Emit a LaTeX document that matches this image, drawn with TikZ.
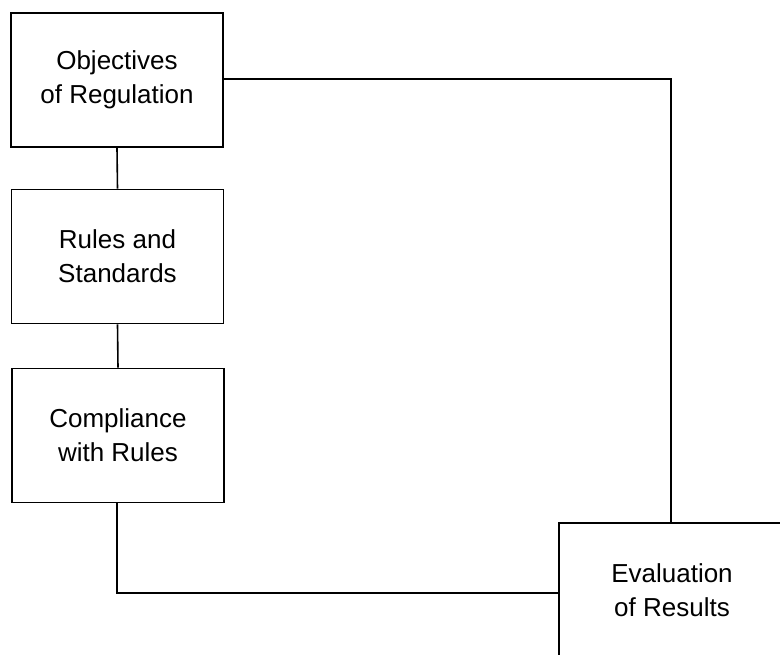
\documentclass[tikz,border=0pt]{standalone}
\usepackage{fontspec}
\setmainfont{Liberation Sans}
\begin{document}
\begin{tikzpicture}[x=1pt,y=-1pt,
  box/.style={draw=black,line width=1.6pt,rectangle,minimum width=212pt,minimum height=134pt,
    align=center,font=\fontsize{26}{34}\selectfont,inner sep=0pt},
  link/.style={draw=black,line width=1.6pt}]
\useasboundingbox (0,0) rectangle (780,655);
\node[box] (obj) at (117,80) {Objectives\\of Regulation};
\node[box] (rul) at (117.5,256.5) {Rules and\\Standards};
\node[box] (com) at (118,435.5) {Compliance\\with Rules};
\node[box,minimum width=226pt,minimum height=135pt] (eva) at (672,590.5) {Evaluation\\of Results};
\draw[link] (obj.south) -- (rul.north);
\draw[link] (rul.south) -- (com.north);
\draw[link] (obj.east |- 0,79) -| (eva.north -| 671,0);
\draw[link] (com.south -| 117,0) |- (eva.west |- 0,593);
\end{tikzpicture}
\end{document}
